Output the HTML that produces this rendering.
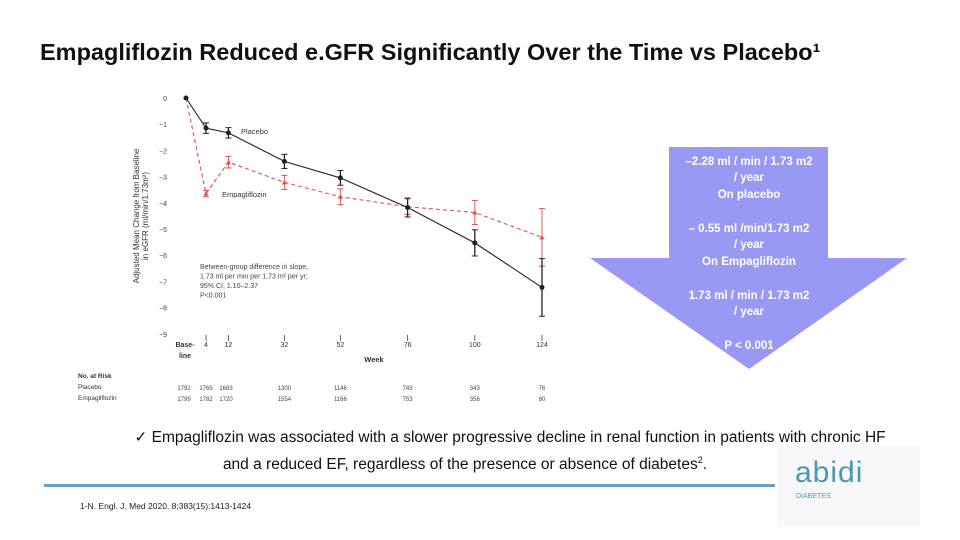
<!DOCTYPE html>
<html><head><meta charset="utf-8"><style>
body{margin:0;width:960px;height:540px;background:#fff;overflow:hidden;position:relative;font-family:"Liberation Sans",sans-serif}
.t{position:absolute;white-space:nowrap}
</style></head><body>
<div class="t" style="left:40px;top:39px;font-size:23.5px;font-weight:bold;color:#111;letter-spacing:0px">Empagliflozin Reduced e.GFR Significantly Over the Time vs Placebo¹</div>

<div style="position:absolute;left:777px;top:446px;width:143px;height:81px;background:#f7f7fa">
<div class="t" style="left:18px;top:10px;font-size:30px;color:#4c97b4;letter-spacing:1px">abidi</div>
<div class="t" style="left:19px;top:47px;font-size:7px;color:#4c97b4">DIABETES</div></div>

<svg width="960" height="540" style="position:absolute;left:0;top:0">
<g id="axes"></g><g id="marks"></g>
<polygon points="669,147 828,147 828,258 907,258 749,369 590,258 669,258" fill="#9999f5"/>
<g font-family="Liberation Sans" font-size="11.5" font-weight="bold" fill="#fff" text-anchor="middle">
<text x="749" y="165">–2.28 ml / min / 1.73 m2</text>
<text x="749" y="181">/ year</text><text x="749" y="198">On placebo</text>
<text x="749" y="232">– 0.55 ml /min/1.73 m2</text>
<text x="749" y="248">/ year</text><text x="749" y="265">On Empagliflozin</text>
<text x="749" y="299">1.73 ml / min / 1.73 m2</text>
<text x="749" y="315">/ year</text><text x="749" y="349">P &lt; 0.001</text>
</g>
</svg>

<div class="t" style="left:105px;top:427px;font-size:15.5px;color:#111;line-height:22px;text-align:center;width:810px">✓ Empagliflozin was associated with a slower progressive decline in renal function in patients with chronic HF<br><span style="margin-right:90px">and a reduced EF, regardless of the presence or absence of diabetes<sup style="font-size:9px">2</sup>.</span></div>
<div style="position:absolute;left:44px;top:484px;width:731px;height:3px;background:#6d9cc4"></div>
<div class="t" style="left:80px;top:501px;font-size:8.5px;color:#222">1-N. Engl. J. Med 2020. 8;383(15):1413-1424</div>

<script>
const weeks=[0,4,12,32,52,76,100,124];
const xLabels=["Base-","4","12","32","52","76","100","124"];
const placebo=[0,-1.15,-1.33,-2.42,-3.05,-4.18,-5.53,-7.23];
const placeboErr=[0,0.2,0.2,0.27,0.28,0.36,0.5,1.1];
const empa=[0,-3.65,-2.45,-3.22,-3.77,-4.15,-4.37,-5.32];
const empaErr=[0,0.12,0.22,0.27,0.3,0.3,0.46,1.1];
const yTicks=[0,-1,-2,-3,-4,-5,-6,-7,-8,-9];
const riskPlacebo=["1792","1765","1683","1300","1146","743","343","76"];
const riskEmpa=["1799","1782","1720","1554","1166","753","356","80"];
const NS="http://www.w3.org/2000/svg";
function X(w){return w===0?186:206+(w-4)*2.8;}
function Y(v){return 98+(-v)*26.2;}
function mk(p,tag,at,txt){const e=document.createElementNS(NS,tag);for(const k in at)e.setAttribute(k,at[k]);if(txt!==undefined)e.textContent=txt;p.appendChild(e);return e;}
const ax=document.getElementById('axes'),mg=document.getElementById('marks');
yTicks.forEach(v=>{const t=mk(ax,'text',{x:167,y:Y(v)+3,'font-size':7,fill:'#444','text-anchor':'end','font-family':'Liberation Sans'},v===0?"0":"−"+(-v));

});
const yl=mk(ax,'text',{x:0,y:0,'font-size':8,fill:'#333','text-anchor':'middle','font-family':'Liberation Sans',transform:'translate(139,216) rotate(-90)'},"Adjusted Mean Change from Baseline");


mk(ax,'text',{x:0,y:0,'font-size':8,fill:'#333','text-anchor':'middle','font-family':'Liberation Sans',transform:'translate(148,216) rotate(-90)'},"in eGFR (ml/min/1.73m²)");
weeks.forEach((w,i)=>{if(i>0)mk(ax,'line',{x1:X(w),x2:X(w),y1:335,y2:341,stroke:'#444','stroke-width':0.8});
const t=mk(ax,'text',{x:i===0?185:X(w),y:347,'font-size':7,fill:'#333','text-anchor':'middle','font-family':'Liberation Sans','font-weight':i===0?'bold':'normal'},xLabels[i]);


const rx=i===0?184:(i===1?206:(i===2?226:X(w)));
mk(ax,'text',{x:rx,y:390,'font-size':6,fill:'#444','text-anchor':'middle','font-family':'Liberation Sans'},riskPlacebo[i]);
mk(ax,'text',{x:rx,y:401,'font-size':6,fill:'#444','text-anchor':'middle','font-family':'Liberation Sans'},riskEmpa[i]);});
mk(ax,'text',{x:185,y:358,'font-size':7,fill:'#333','font-weight':'bold','text-anchor':'middle','font-family':'Liberation Sans'},"line");
mk(ax,'text',{x:374,y:362,'font-size':7.5,fill:'#333','font-weight':'bold','text-anchor':'middle','font-family':'Liberation Sans'},"Week");
[["No. at Risk",378,'bold'],["Placebo",389,'normal'],["Empagliflozin",400,'normal']].forEach(r=>mk(ax,'text',{x:78,y:r[1],'font-size':6.5,fill:'#333','font-weight':r[2],'font-family':'Liberation Sans'},r[0]));
mk(ax,'text',{x:241,y:134,'font-size':7.5,fill:'#333','font-family':'Liberation Sans'},"Placebo");
mk(ax,'text',{x:222,y:197,'font-size':7.5,fill:'#333','font-family':'Liberation Sans'},"Empagliflozin");
["Between-group difference in slope,","   1.73 ml per min per 1.73 m² per yr;","   95% CI, 1.10–2.37","P<0.001"].forEach((s,i)=>mk(ax,'text',{x:200,y:269+i*9.5,'font-size':7,fill:'#444','font-family':'Liberation Sans','xml:space':'preserve'},s));
function series(vals,errs,col,dash,name,tri){
mk(mg,'polyline',{points:vals.map((v,i)=>X(weeks[i])+','+Y(v)).join(' '),fill:'none',stroke:col,'stroke-width':1.1,'stroke-dasharray':dash});
vals.forEach((v,i)=>{const x=X(weeks[i]);if(errs[i]>0){const a=Y(v+errs[i]),b=Y(v-errs[i]);
mk(mg,'line',{x1:x,x2:x,y1:a,y2:b,stroke:col,'stroke-width':tri?0.9:1.3});
mk(mg,'line',{x1:x-3,x2:x+3,y1:a,y2:a,stroke:col,'stroke-width':1});
mk(mg,'line',{x1:x-3,x2:x+3,y1:b,y2:b,stroke:col,'stroke-width':1});}
const y=Y(v);const m=tri?mk(mg,'polygon',{points:`${x},${y-2.5} ${x+2.5},${y+2} ${x-2.5},${y+2}`,fill:col}):mk(mg,'circle',{cx:x,cy:y,r:2.5,fill:col});

});}
series(empa,empaErr,'#d9534f','4,3','empagliflozin',true);
series(placebo,placeboErr,'#222','none','placebo',false);
</script>
</body></html>
